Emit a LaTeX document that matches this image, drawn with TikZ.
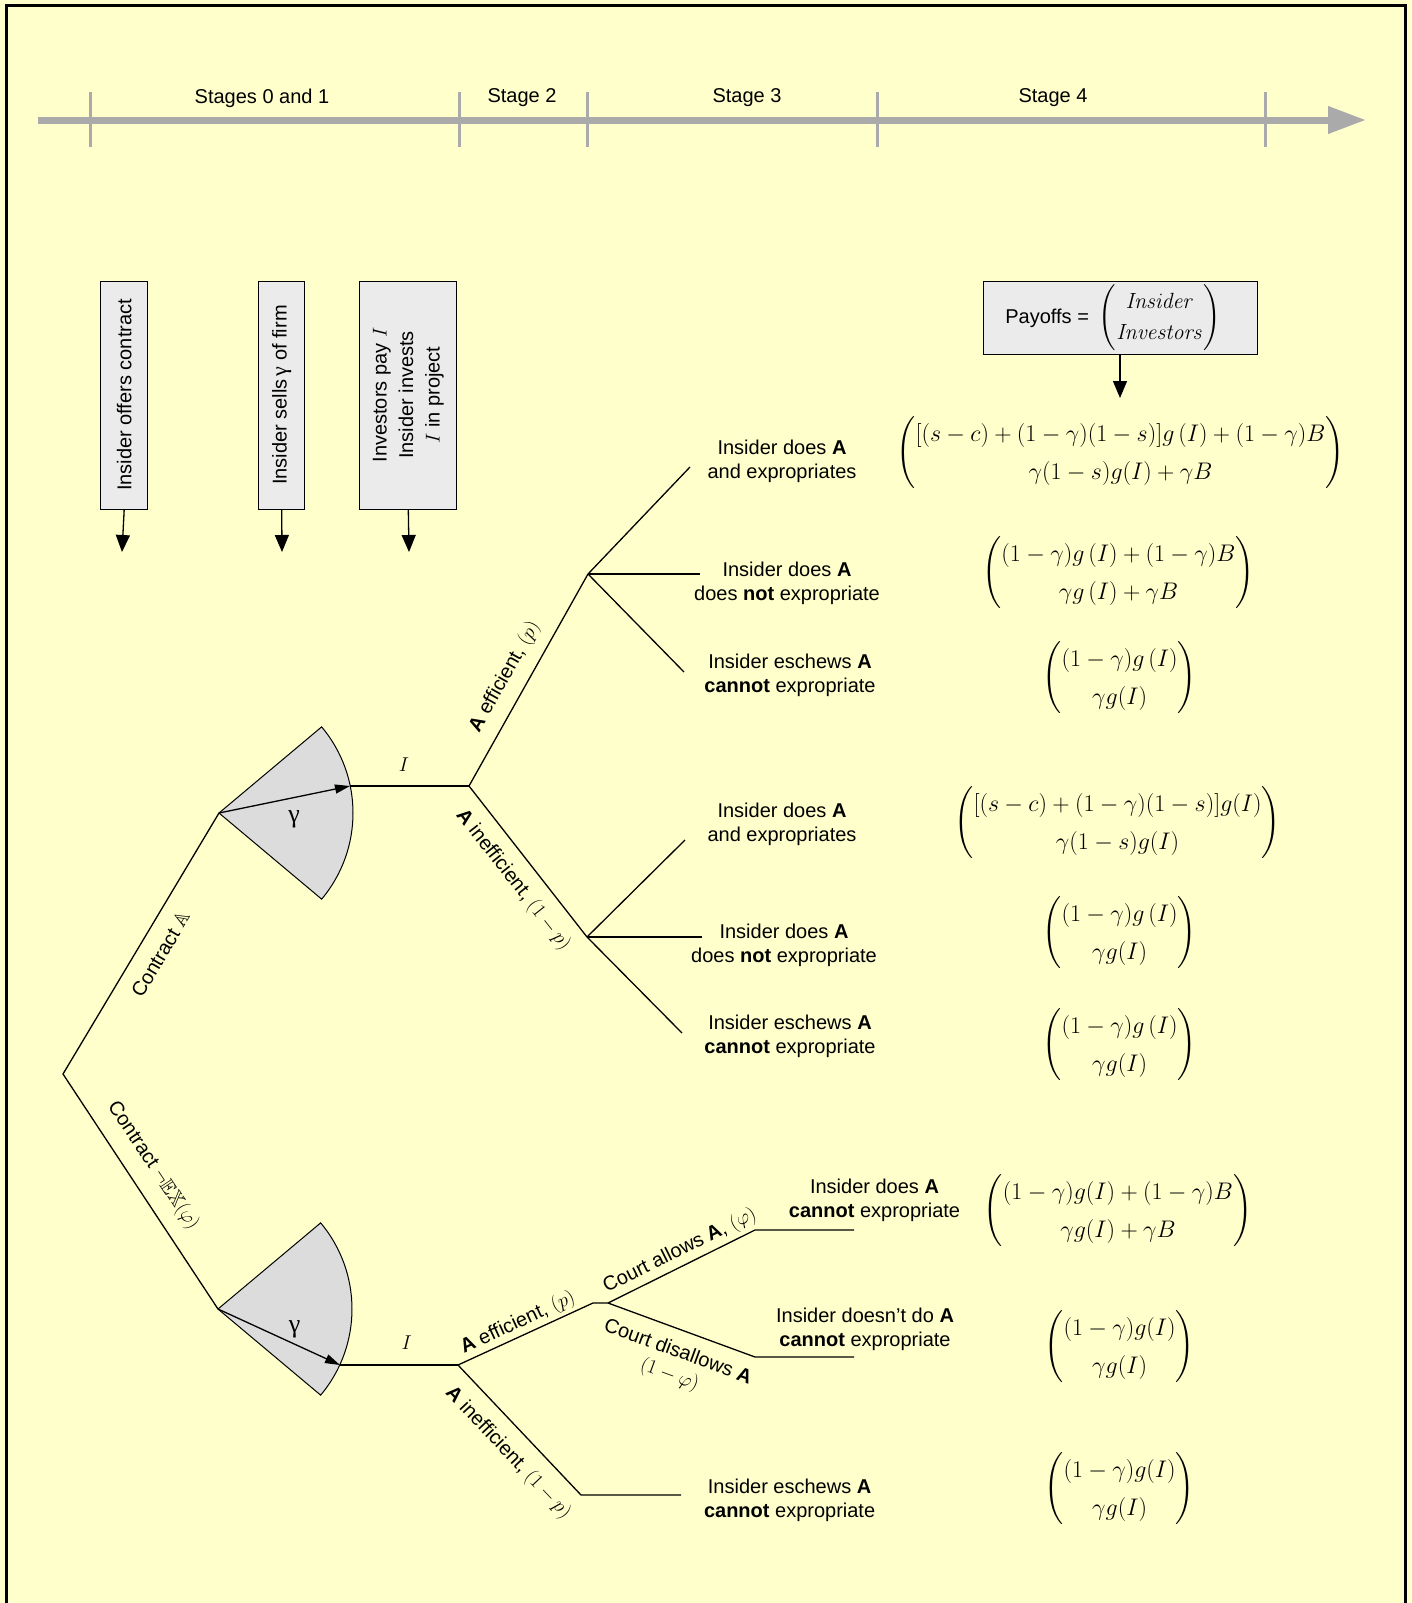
\RequirePackage{fix-cm}
\documentclass[tikz,border=0pt]{standalone}
\usepackage{amsmath,amssymb}
\usepackage[no-math]{fontspec}
\setmainfont{Liberation Sans}
\newfontfamily\gfont{Liberation Serif}
\usetikzlibrary{arrows.meta}
\definecolor{bgy}{HTML}{FFFFCC}
\definecolor{boxg}{HTML}{EBEBEB}
\definecolor{secg}{HTML}{DCDCDC}
\definecolor{tlg}{HTML}{AAAAAA}
\begin{document}
\begin{tikzpicture}[x=1pt,y=-1pt,
  txt/.style={font=\fontsize{20}{24}\selectfont, align=center, inner sep=0pt},
  lbl/.style={font=\fontsize{20}{24}\selectfont, inner sep=0pt},
  pay/.style={font=\fontsize{24}{38}\selectfont, inner sep=0pt},
  tbox/.style={draw=black, fill=boxg, line width=1pt, font=\fontsize{20}{26.5}\selectfont, align=center, inner sep=0pt},
  branch/.style={line width=1.3pt, draw=black},
  sector/.style={fill=secg, draw=black, line width=1pt},
  downarrow/.style={-{Triangle[length=17pt,width=14pt]}, line width=1.3pt},
  stagetick/.style={draw=tlg, line width=3pt},
  fanarrow/.style={-{Triangle[length=15pt,width=9pt]}, line width=1.3pt},
]
\fill[bgy] (0,0) rectangle (1411,1603);
\useasboundingbox (0,0) rectangle (1411,1603);
\draw[line width=3pt] (6,1620) -- (6,6) -- (1405,6) -- (1405,1620);

% timeline
\coordinate (tl0) at (38,120);
\coordinate (tl1) at (1366,120);
\draw[tlg, line width=7pt, -{Triangle[length=38pt,width=26pt]}] (tl0) -- (tl1);
\foreach \x in {90,459,587,877,1265} \draw[stagetick] (\x,92) -- (\x,147);
\node[lbl] (s01) at (262,98) {Stages 0 and 1};
\node[lbl] (s2) at (522,98) {Stage 2};
\node[lbl] (s3) at (747,98) {Stage 3};
\node[lbl] (s4) at (1053,98) {Stage 4};

% stage boxes
\node[tbox, rotate=90, minimum width=228pt, minimum height=46.5pt] (b1) at (124.2,395) {Insider offers contract};
\node[tbox, rotate=90, minimum width=228pt, minimum height=46pt] (b2) at (281.7,395) {Insider sells\kern3pt{\gfont\fontsize{22}{26}\selectfont γ} of firm};
\node[tbox, rotate=90, minimum width=228pt, minimum height=96.7pt] (b3) at (408.3,395) {Investors pay $I$\\Insider invests\\$I$ in project};
\coordinate (a1) at (122,552);
\coordinate (a2) at (282,552);
\coordinate (a3) at (409,552);
\draw[downarrow] (b1.west) -- (a1);
\draw[downarrow] (b2.west) -- (a2);
\draw[downarrow] (b3.west) -- (a3);

% payoff legend
\node[tbox, minimum width=274pt, minimum height=73pt] (pb) at (1120,317.5) {Payoffs =\kern10pt{\fontsize{22}{31}\selectfont$\begin{pmatrix}\mathit{Insider}\\ \mathit{Investors}\end{pmatrix}$}\kern14pt};
\coordinate (pa) at (1120,398);
\draw[downarrow] (pb.south) -- (pa);

% tree coordinates
\coordinate (R) at (63,1074);
\coordinate (U0) at (219,813);
\coordinate (U0t) at (350,786);
\coordinate (U1) at (469,786);
\coordinate (U2) at (588,574);
\coordinate (E1) at (690,467);
\coordinate (E2) at (700,574);
\coordinate (E3) at (684,672);
\coordinate (L2) at (587,937);
\coordinate (E4) at (685,840);
\coordinate (E5) at (702,937);
\coordinate (E6) at (682,1033);
\coordinate (D0) at (218,1309);
\coordinate (D0t) at (340,1365);
\coordinate (N) at (458,1365);
\coordinate (NE) at (593,1303);
\coordinate (NE2) at (608,1303);
\coordinate (CA) at (755,1230);
\coordinate (CAe) at (854,1230);
\coordinate (CD) at (755,1357);
\coordinate (CDe) at (854,1357);
\coordinate (NI) at (581,1495);
\coordinate (NIe) at (681,1495);

% sectors
\draw[sector] (U0) -- ++(40:134) arc[start angle=40,end angle=-40,radius=134] -- cycle;
\draw[sector] (D0) -- ++(40:134) arc[start angle=40,end angle=-40,radius=134] -- cycle;
\draw[fanarrow] (U0) -- (U0t);
\draw[fanarrow] (D0) -- (D0t);
\node[font=\gfont\fontsize{26}{26}\selectfont, inner sep=0pt] (gu) at (294,819) {γ};
\node[font=\gfont\fontsize{26}{26}\selectfont, inner sep=0pt] (gd) at (294.5,1329) {γ};

% branches
\draw[branch] (U0) -- (R) -- (D0);
\draw[branch] (U0t) -- (U1);
\draw[branch] (U1) -- (U2);
\draw[branch] (U1) -- (L2);
\draw[branch] (U2) -- (E1);
\draw[branch] (U2) -- (E2);
\draw[branch] (U2) -- (E3);
\draw[branch] (L2) -- (E4);
\draw[branch] (L2) -- (E5);
\draw[branch] (L2) -- (E6);
\draw[branch] (D0t) -- (N);
\draw[branch] (N) -- (NE) -- (NE2);
\draw[branch] (NE2) -- (CA) -- (CAe);
\draw[branch] (NE2) -- (CD) -- (CDe);
\draw[branch] (N) -- (NI) -- (NIe);

% branch labels
\node[lbl] (iu) at (404,765) {$I$};
\node[lbl] (id) at (406.6,1343) {$I$};
\node[lbl, rotate=59.3] (lca) at (160.7,954) {Contract $\mathbb{A}$};
\node[lbl, rotate=-56.3] (lcn) at (153,1166) {Contract $\neg\mathbb{EX}(\varphi)$};
\node[lbl, rotate=60.7] (lue) at (505,677) {\textbf{A} efficient, $(p)$};
\node[lbl, rotate=-51.8] (lui) at (513,880) {\textbf{A} inefficient, $(1-p)$};
\node[lbl, rotate=25] (lbe) at (518,1323) {\textbf{A} efficient, $(p)$};
\node[lbl, rotate=-46.6] (lbi) at (508,1453) {\textbf{A} inefficient, $(1-p)$};
\node[lbl, rotate=26.4] (lcal) at (680,1251) {Court allows \textbf{A}, $(\varphi)$};
\node[lbl, rotate=-20.2, align=center] (lcdl) at (673.5,1364) {Court disallows \textbf{A}\\$(1-\varphi)$};

% outcome texts
\node[txt] (t1) at (782,461) {Insider does \textbf{A}\\and expropriates};
\node[txt] (t2) at (787,583) {Insider does \textbf{A}\\does \textbf{not} expropriate};
\node[txt] (t3) at (790,675) {Insider eschews \textbf{A}\\\textbf{cannot} expropriate};
\node[txt] (t4) at (782,824) {Insider does \textbf{A}\\and expropriates};
\node[txt] (t5) at (784,945) {Insider does \textbf{A}\\does \textbf{not} expropriate};
\node[txt] (t6) at (790,1036.5) {Insider eschews \textbf{A}\\\textbf{cannot} expropriate};
\node[txt] (t7) at (874.5,1200.5) {Insider does \textbf{A}\\\textbf{cannot} expropriate};
\node[txt] (t8) at (865,1329.7) {Insider doesn't do \textbf{A}\\\textbf{cannot} expropriate};
\node[txt] (t9) at (789.6,1500) {Insider eschews \textbf{A}\\\textbf{cannot} expropriate};

% payoffs
\node[pay] (p1) at (1120.5,453) {$\begin{pmatrix}[(s-c)+(1-\gamma)(1-s)]g\,(I)+(1-\gamma)B\\ \gamma(1-s)g(I)+\gamma B\end{pmatrix}$};
\node[pay] (p2) at (1118.5,572.6) {$\begin{pmatrix}(1-\gamma)g\,(I)+(1-\gamma)B\\ \gamma g\,(I)+\gamma B\end{pmatrix}$};
\node[pay] (p3) at (1119.6,678) {$\begin{pmatrix}(1-\gamma)g\,(I)\\ \gamma g(I)\end{pmatrix}$};
\node[pay] (p4) at (1117.6,822.6) {$\begin{pmatrix}[(s-c)+(1-\gamma)(1-s)]g(I)\\ \gamma(1-s)g(I)\end{pmatrix}$};
\node[pay] (p5) at (1119.6,932.5) {$\begin{pmatrix}(1-\gamma)g\,(I)\\ \gamma g(I)\end{pmatrix}$};
\node[pay] (p6) at (1119.6,1044.5) {$\begin{pmatrix}(1-\gamma)g\,(I)\\ \gamma g(I)\end{pmatrix}$};
\node[pay] (p7) at (1118,1210.6) {$\begin{pmatrix}(1-\gamma)g(I)+(1-\gamma)B\\ \gamma g(I)+\gamma B\end{pmatrix}$};
\node[pay] (p8) at (1119.6,1346.5) {$\begin{pmatrix}(1-\gamma)g(I)\\ \gamma g(I)\end{pmatrix}$};
\node[pay] (p9) at (1119.6,1489) {$\begin{pmatrix}(1-\gamma)g(I)\\ \gamma g(I)\end{pmatrix}$};
\end{tikzpicture}
\end{document}
